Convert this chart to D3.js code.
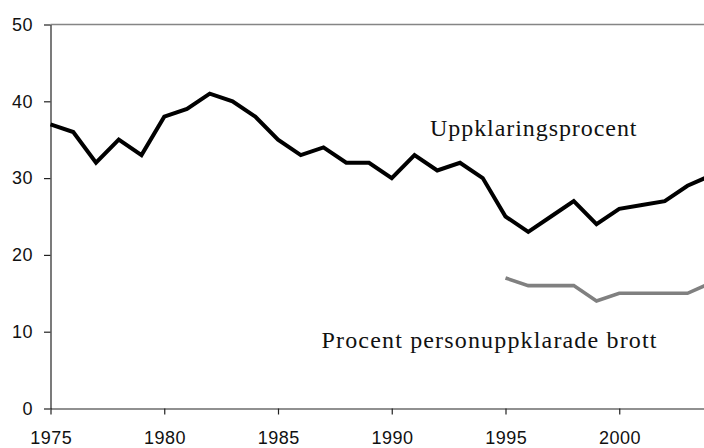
<!DOCTYPE html>
<html>
<head>
<meta charset="utf-8">
<script src="https://cdn.jsdelivr.net/npm/d3@7"></script>
<style>
  html, body { margin: 0; padding: 0; background: #fff; }
  svg { display: block; }
</style>
</head>
<body>
<svg id="chart" width="704" height="448"></svg>
<script>
const years = d3.range(1975, 2005);
const uppklaring = [37, 36, 32, 35, 33, 38, 39, 41, 40, 38, 35, 33, 34, 32, 32, 30, 33, 31, 32, 30, 25, 23, 25, 27, 24, 26, 26.5, 27, 29, 30.3];
const personYears = [1995, 1996, 1997, 1998, 1999, 2000, 2001, 2002, 2003, 2004];
const personuppklarade = [17, 16, 16, 16, 14, 15, 15, 15, 15, 16.3];
const yTicks = [0, 10, 20, 30, 40, 50];
const xTicks = [1975, 1980, 1985, 1990, 1995, 2000];
const labelUpp = "Uppklaringsprocent";
const labelPers = "Procent personuppklarade brott";

const svg = d3.select("#chart");
const x = d3.scaleLinear().domain([1975, 2004]).range([50.5, 50.5 + 29 * 22.75]);
const y = d3.scaleLinear().domain([0, 50]).range([408.5, 24.5]);

// top border
svg.append("line")
  .attr("x1", x(1975)).attr("x2", 704)
  .attr("y1", y(50)).attr("y2", y(50))
  .attr("stroke", "#858585").attr("stroke-width", 1.3);

// y axis
const yAxis = svg.append("g").attr("transform", `translate(${x(1975)},0)`)
  .call(d3.axisLeft(y).tickValues(yTicks).tickSize(6.5).tickSizeOuter(0).tickPadding(10));
// x axis
const xAxis = svg.append("g").attr("transform", `translate(0,${y(0)})`)
  .call(d3.axisBottom(x).tickValues(xTicks).tickSize(6).tickSizeOuter(0).tickPadding(17).tickFormat(d3.format("d")));

[yAxis, xAxis].forEach(g => {
  g.select(".domain").attr("stroke", "#222").attr("stroke-width", 1.2);
  g.selectAll(".tick line").attr("stroke", "#222").attr("stroke-width", 1.2);
  g.selectAll("text")
    .attr("fill", "#111")
    .style("font-family", "'Liberation Sans', Arial, sans-serif")
    .style("font-size", "18px")
    .style("letter-spacing", "0.5px");
});
yAxis.selectAll("text").attr("dx", "-1px");
xAxis.selectAll("text").attr("dx", "0.3px");

const line = d3.line().x(d => x(d[0])).y(d => y(d[1]));

svg.append("path")
  .datum(personYears.map((yr, i) => [yr, personuppklarade[i]]))
  .attr("d", line)
  .attr("fill", "none")
  .attr("stroke", "#808080")
  .attr("stroke-width", 3.6)
  .attr("stroke-linejoin", "miter");

svg.append("path")
  .datum(years.map((yr, i) => [yr, uppklaring[i]]))
  .attr("d", line)
  .attr("fill", "none")
  .attr("stroke", "#000")
  .attr("stroke-width", 4)
  .attr("stroke-linejoin", "miter");

svg.append("text")
  .attr("x", 430).attr("y", 136)
  .attr("textLength", 206.5).attr("lengthAdjust", "spacing")
  .style("font-family", "'Liberation Serif', 'Times New Roman', serif")
  .style("font-size", "24px")
  .attr("fill", "#111")
  .text(labelUpp);

svg.append("text")
  .attr("x", 321.5).attr("y", 348)
  .attr("textLength", 335).attr("lengthAdjust", "spacing")
  .style("font-family", "'Liberation Serif', 'Times New Roman', serif")
  .style("font-size", "24px")
  .attr("fill", "#111")
  .text(labelPers);
</script>
</body>
</html>
